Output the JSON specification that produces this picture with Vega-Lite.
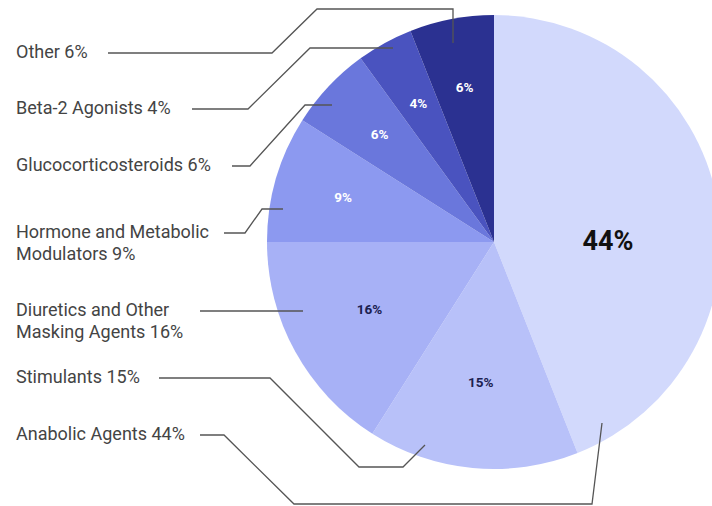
{
  "$schema": "https://vega.github.io/schema/vega-lite/v6.json",
  "width": 712,
  "height": 506,
  "padding": 0,
  "autosize": {"type": "none"},
  "background": "white",
  "config": {"view": {"stroke": null}, "font": "Roboto"},
  "datasets": {
    "slices": [
      {"cat": "Anabolic Agents", "value": 44, "ord": 1, "pct": "44%"},
      {"cat": "Stimulants", "value": 15, "ord": 2, "pct": "15%"},
      {"cat": "Diuretics and Other Masking Agents", "value": 16, "ord": 3, "pct": "16%"},
      {"cat": "Hormone and Metabolic Modulators", "value": 9, "ord": 4, "pct": "9%"},
      {"cat": "Glucocorticosteroids", "value": 6, "ord": 5, "pct": "6%"},
      {"cat": "Beta-2 Agonists", "value": 4, "ord": 6, "pct": "4%"},
      {"cat": "Other", "value": 6, "ord": 7, "pct": "6%"}
    ],
    "leaders": [
      {"cat": "Other", "pt": 0, "x": 108, "y": 53, "label": "Other 6%"},
      {"cat": "Other", "pt": 1, "x": 272, "y": 53},
      {"cat": "Other", "pt": 2, "x": 317, "y": 9},
      {"cat": "Other", "pt": 3, "x": 453, "y": 9},
      {"cat": "Other", "pt": 4, "x": 453, "y": 43},
      {"cat": "Beta-2 Agonists", "pt": 0, "x": 192, "y": 109, "label": "Beta-2 Agonists 4%"},
      {"cat": "Beta-2 Agonists", "pt": 1, "x": 248, "y": 109},
      {"cat": "Beta-2 Agonists", "pt": 2, "x": 310, "y": 48},
      {"cat": "Beta-2 Agonists", "pt": 3, "x": 393, "y": 48},
      {"cat": "Glucocorticosteroids", "pt": 0, "x": 232, "y": 166, "label": "Glucocorticosteroids 6%"},
      {"cat": "Glucocorticosteroids", "pt": 1, "x": 250, "y": 166},
      {"cat": "Glucocorticosteroids", "pt": 2, "x": 305, "y": 105},
      {"cat": "Glucocorticosteroids", "pt": 3, "x": 332, "y": 105},
      {"cat": "Hormone and Metabolic Modulators", "pt": 0, "x": 224, "y": 233, "label": "Hormone and Metabolic\nModulators 9%"},
      {"cat": "Hormone and Metabolic Modulators", "pt": 1, "x": 245, "y": 233},
      {"cat": "Hormone and Metabolic Modulators", "pt": 2, "x": 262, "y": 209},
      {"cat": "Hormone and Metabolic Modulators", "pt": 3, "x": 283, "y": 209},
      {"cat": "Diuretics and Other Masking Agents", "pt": 0, "x": 200, "y": 311, "label": "Diuretics and Other\nMasking Agents 16%"},
      {"cat": "Diuretics and Other Masking Agents", "pt": 1, "x": 303, "y": 311},
      {"cat": "Stimulants", "pt": 0, "x": 159, "y": 378, "label": "Stimulants 15%"},
      {"cat": "Stimulants", "pt": 1, "x": 270, "y": 378},
      {"cat": "Stimulants", "pt": 2, "x": 359, "y": 467},
      {"cat": "Stimulants", "pt": 3, "x": 403, "y": 467},
      {"cat": "Stimulants", "pt": 4, "x": 425, "y": 445},
      {"cat": "Anabolic Agents", "pt": 0, "x": 200, "y": 435, "label": "Anabolic Agents 44%"},
      {"cat": "Anabolic Agents", "pt": 1, "x": 224, "y": 435},
      {"cat": "Anabolic Agents", "pt": 2, "x": 294, "y": 504},
      {"cat": "Anabolic Agents", "pt": 3, "x": 592, "y": 504},
      {"cat": "Anabolic Agents", "pt": 4, "x": 602, "y": 423}
    ]
  },
  "resolve": {"scale": {"color": "independent"}},
  "layer": [
    {
      "data": {"name": "slices"},
      "mark": {"type": "arc", "outerRadius": 227, "stroke": null},
      "encoding": {
        "x": {"datum": 494, "type": "quantitative", "scale": {"domain": [0, 712], "nice": false, "zero": false}, "axis": null},
        "y": {"datum": 242, "type": "quantitative", "scale": {"domain": [0, 506], "reverse": true, "nice": false, "zero": false}, "axis": null},
        "theta": {"field": "value", "type": "quantitative", "stack": true},
        "order": {"field": "ord", "type": "quantitative"},
        "color": {
          "field": "cat", "type": "nominal", "legend": null,
          "scale": {
            "domain": ["Anabolic Agents", "Stimulants", "Diuretics and Other Masking Agents", "Hormone and Metabolic Modulators", "Glucocorticosteroids", "Beta-2 Agonists", "Other"],
            "range": ["#d2d9fc", "#b8c1f9", "#a7b1f6", "#8c99f0", "#6a77dc", "#4a53bf", "#2b3191"]
          }
        }
      }
    },
    {
      "data": {"name": "slices"},
      "mark": {"type": "text", "radius": 114, "thetaOffset": 0.1885, "fontSize": 27, "fontWeight": "bold", "color": "#111111", "align": "center", "baseline": "middle"},
      "encoding": {
        "x": {"datum": 494, "type": "quantitative"},
        "y": {"datum": 242, "type": "quantitative"},
        "theta": {"field": "value", "type": "quantitative", "stack": true},
        "order": {"field": "ord", "type": "quantitative"},
        "text": {"condition": {"test": "datum.value == 44", "field": "pct"}, "value": ""}
      }
    },
    {
      "data": {"name": "slices"},
      "mark": {"type": "text", "radius": 142, "fontSize": 13.5, "fontWeight": "bold", "color": "#1c2150", "align": "center", "baseline": "middle"},
      "encoding": {
        "x": {"datum": 494, "type": "quantitative"},
        "y": {"datum": 242, "type": "quantitative"},
        "theta": {"field": "value", "type": "quantitative", "stack": true},
        "order": {"field": "ord", "type": "quantitative"},
        "text": {"condition": {"test": "datum.value == 15 || datum.value == 16", "field": "pct"}, "value": ""}
      }
    },
    {
      "data": {"name": "slices"},
      "mark": {"type": "text", "radius": 157, "fontSize": 13.5, "fontWeight": "bold", "color": "#ffffff", "align": "center", "baseline": "middle"},
      "encoding": {
        "x": {"datum": 494, "type": "quantitative"},
        "y": {"datum": 242, "type": "quantitative"},
        "theta": {"field": "value", "type": "quantitative", "stack": true},
        "order": {"field": "ord", "type": "quantitative"},
        "text": {"condition": {"test": "datum.value < 10", "field": "pct"}, "value": ""}
      }
    },
    {
      "data": {"name": "leaders"},
      "mark": {"type": "line", "color": "#555555", "strokeWidth": 1.3, "clip": false},
      "encoding": {
        "x": {"field": "x", "type": "quantitative"},
        "y": {"field": "y", "type": "quantitative"},
        "detail": {"field": "cat", "type": "nominal"},
        "order": {"field": "pt", "type": "quantitative"}
      }
    },
    {
      "data": {"name": "leaders"},
      "transform": [{"filter": "datum.pt == 0"}],
      "mark": {"type": "text", "align": "left", "baseline": "middle", "fontSize": 18, "color": "#444444", "lineBreak": "\n", "lineHeight": 22},
      "encoding": {
        "x": {"datum": 16, "type": "quantitative"},
        "y": {"field": "y", "type": "quantitative"},
        "text": {"field": "label", "type": "nominal"}
      }
    }
  ]
}
